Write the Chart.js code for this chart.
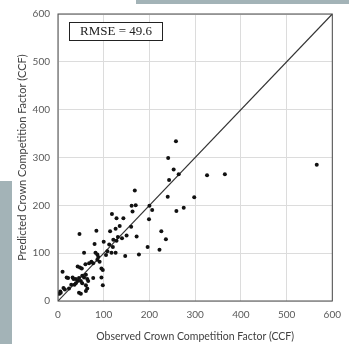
<!DOCTYPE html>
<html>
<head>
<meta charset="utf-8">
<script src="https://cdn.jsdelivr.net/npm/chart.js@4"></script>
<style>
    body { margin: 0; background: #fff; }
    #wrap { position: relative; width: 349px; height: 344px; }
    .bar { position: absolute; background: #a3b3b7; }
</style>
</head>
<body>
<div id="wrap">
    <canvas id="ccfChart" width="349" height="344"></canvas>
    <div class="bar" style="left:136px; top:0; width:213px; height:4px;"></div>
    <div class="bar" style="left:0; top:181px; width:12px; height:163px;"></div>
</div>
<script>
// observed vs predicted CCF
const observed = [
    566, 365, 326, 298, 258, 241, 253, 264, 243, 240,
    259, 275, 236, 226, 222, 196, 199, 200, 206, 168,
    161, 170, 163, 172, 177, 147, 160, 135, 126, 118,
    128, 143, 114, 84, 47, 131, 150, 121, 128, 140,
    100, 80, 108, 117, 126, 105, 82, 86, 57, 68,
    73, 77, 86, 91, 60, 43, 48, 52, 95, 98,
    10, 19, 22, 32, 34, 39, 43, 46, 53, 57,
    61, 64, 66, 50, 53, 39, 36, 95, 98, 61,
    64, 61, 46, 50, 12, 15, 5, 3, 6, 24,
    29, 77, 112, 120, 88
];
const predicted = [
    285, 265, 263, 217, 334, 299, 275, 265, 253, 218,
    188, 195, 129, 146, 107, 113, 171, 199, 190, 231,
    199, 200, 187, 135, 97, 94, 155, 157, 151, 182,
    173, 173, 146, 147, 140, 134, 137, 128, 126, 131,
    124, 119, 104, 101, 101, 96, 101, 97, 101, 79,
    82, 79, 86, 82, 77, 72, 70, 68, 68, 65,
    61, 49, 48, 49, 46, 46, 42, 48, 53, 49,
    55, 46, 42, 42, 37, 37, 34, 49, 33, 33,
    26, 21, 17, 15, 27, 24, 20, 15, 17, 26,
    34, 48, 118, 113, 92
];
const axisTicks = [0, 100, 200, 300, 400, 500, 600];
const oneToOne = [0, 600];
const rmseLabel = 'RMSE = 49.6';

const points = observed.map((x, i) => ({ x: x, y: predicted[i] }));

const frameAndBox = {
    id: 'frameAndBox',
    afterDatasetsDraw(chart) {
        const ctx = chart.ctx;
        const a = chart.chartArea;
        ctx.save();
        ctx.strokeStyle = '#4a4a4a';
        ctx.lineWidth = 1;
        ctx.strokeRect(a.left, a.top, a.right - a.left, a.bottom - a.top);
        // RMSE box
        ctx.fillStyle = '#fff';
        ctx.fillRect(69.5, 22.5, 93, 18);
        ctx.strokeStyle = '#222';
        ctx.strokeRect(69.5, 22.5, 93, 18);
        ctx.fillStyle = '#222';
        ctx.font = "13px 'Liberation Serif'";
        ctx.textAlign = 'center';
        ctx.textBaseline = 'middle';
        ctx.fillText(rmseLabel, 116, 32);
        ctx.restore();
    }
};

const tickFont = { family: 'Lato', size: 10 };

new Chart(document.getElementById('ccfChart'), {
    type: 'scatter',
    data: {
        datasets: [{
            data: points,
            backgroundColor: '#111',
            borderWidth: 0,
            pointRadius: 2
        }, {
            type: 'line',
            data: oneToOne.map(v => ({ x: v, y: v })),
            borderColor: '#333',
            borderWidth: 1.2,
            pointRadius: 0,
            fill: false
        }]
    },
    options: {
        responsive: false,
        animation: false,
        layout: { padding: { top: 11.5, right: 1.5, left: 0, bottom: 0 } },
        plugins: { legend: { display: false }, tooltip: { enabled: false } },
        scales: {
            x: {
                type: 'linear',
                min: 0,
                max: 600,
                afterBuildTicks: s => { s.ticks = axisTicks.map(v => ({ value: v })); },
                afterFit: s => { s.height = 43; },
                grid: { color: '#dcdcdc', drawTicks: false },
                border: { display: false },
                ticks: { color: '#595959', font: tickFont, padding: 8, maxRotation: 0 },
                title: {
                    display: true,
                    text: 'Observed Crown Competition Factor (CCF)',
                    color: '#404040',
                    font: { family: 'Lato', size: 10.5 },
                    padding: { top: 0, bottom: 1 }
                }
            },
            y: {
                min: 0,
                max: 600,
                afterBuildTicks: s => { s.ticks = axisTicks.map(v => ({ value: v })); },
                afterFit: s => { s.width = 58; },
                grid: { color: '#dcdcdc', drawTicks: false },
                border: { display: false },
                ticks: { color: '#595959', font: tickFont, padding: 8 },
                title: {
                    display: true,
                    text: 'Predicted Crown Competition Factor (CCF)',
                    color: '#404040',
                    font: { family: 'Lato', size: 11 },
                    padding: { top: 16, bottom: 0 }
                }
            }
        }
    },
    plugins: [frameAndBox]
});
</script>
</body>
</html>
